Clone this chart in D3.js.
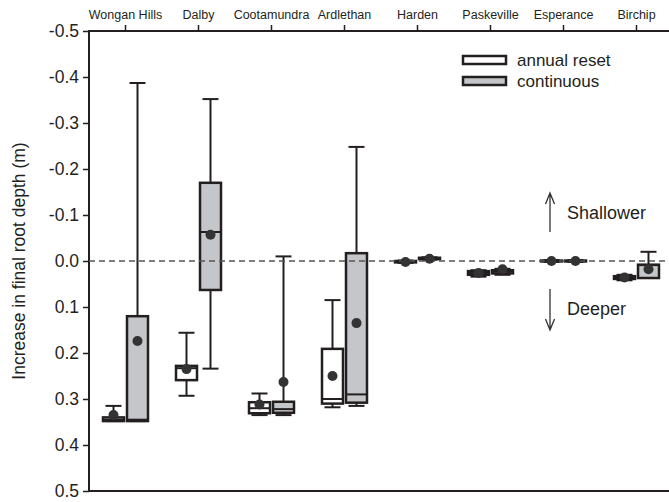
<!DOCTYPE html>
<html>
<head>
<meta charset="utf-8">
<script src="https://cdn.jsdelivr.net/npm/d3@7"></script>
<style>
	body { margin: 0; background: #fff; }
	svg { display: block; font-family: "Liberation Sans", Arial, sans-serif; }
</style>
</head>
<body>
<svg id="chart" width="669" height="502"></svg>
<script>
// sites along the top axis
const sites = ['Wongan Hills', 'Dalby', 'Cootamundra', 'Ardlethan', 'Harden', 'Paskeville', 'Esperance', 'Birchip'];
const seriesNames = ['annual reset', 'continuous'];
const yTicks = [-0.5, -0.4, -0.3, -0.2, -0.1, 0.0, 0.1, 0.2, 0.3, 0.4, 0.5];

// annual reset (m): whisker ends, quartiles, median, mean
const annualLow = [0.315, 0.156, 0.288, 0.085, -0.001, 0.020, -0.002, 0.030];
const annualQ1 = [0.340, 0.228, 0.307, 0.191, 0.000, 0.022, -0.001, 0.033];
const annualMedian = [0.345, 0.233, 0.320, 0.300, 0.002, 0.026, 0.000, 0.036];
const annualQ3 = [0.348, 0.259, 0.331, 0.310, 0.003, 0.030, 0.001, 0.039];
const annualHigh = [0.348, 0.293, 0.335, 0.318, 0.004, 0.034, 0.002, 0.042];
const annualMean = [0.335, 0.235, 0.312, 0.250, 0.002, 0.026, 0.000, 0.036];

// continuous (m)
const contLow = [-0.387, -0.352, -0.010, -0.248, -0.008, 0.017, -0.002, -0.020];
const contQ1 = [0.120, -0.170, 0.306, -0.017, -0.007, 0.020, -0.001, 0.008];
const contMedian = [0.345, -0.063, 0.322, 0.290, -0.005, 0.023, 0.000, 0.009];
const contQ3 = [0.348, 0.063, 0.330, 0.308, -0.004, 0.027, 0.001, 0.037];
const contHigh = [0.348, 0.234, 0.335, 0.315, -0.003, 0.030, 0.002, 0.037];
const contMean = [0.174, -0.057, 0.263, 0.135, -0.005, 0.018, 0.000, 0.018];

const ink = '#231f20';
const greyFill = '#c5c6c9';

const svg = d3.select('#chart');
const margin = { left: 89, top: 31, right: 673, bottom: 491 };

const x = d3.scaleBand()
	.domain(sites)
	.range([margin.left, margin.right]);
const offset = d3.scalePoint()
	.domain(seriesNames)
	.range([-12, 12]);
const y = d3.scaleLinear()
	.domain([-0.5, 0.5])
	.range([margin.top, margin.bottom]);

const boxWidth = 21;
const capWidth = 16;

function buildRows(name, low, q1, median, q3, high, mean) {
	return sites.map(function(site, i) {
		return { site: site, series: name, low: low[i], q1: q1[i], median: median[i], q3: q3[i], high: high[i], mean: mean[i] };
	});
}

const rows = buildRows(seriesNames[0], annualLow, annualQ1, annualMedian, annualQ3, annualHigh, annualMean)
	.concat(buildRows(seriesNames[1], contLow, contQ1, contMedian, contQ3, contHigh, contMean));

function cx(d) { return x(d.site) + x.bandwidth() / 2 + offset(d.series); }

//-- axes --//

const minusLocale = d3.formatLocale({ decimal: '.', thousands: ',', grouping: [3], currency: ['', ''], minus: '-' });

const yAxis = svg.append('g')
	.attr('transform', 'translate(' + margin.left + ',0)')
	.call(d3.axisLeft(y).tickValues(yTicks).tickSize(6).tickPadding(4).tickFormat(minusLocale.format('.1f')));
yAxis.select('.domain').remove();
yAxis.selectAll('line').attr('stroke', ink).attr('stroke-width', 1.5);
yAxis.selectAll('text').attr('fill', ink).style('font-size', '17.5px').style('font-family', '"Liberation Sans", Arial, sans-serif');

const topAxis = svg.append('g')
	.attr('transform', 'translate(0,' + margin.top + ')')
	.call(d3.axisTop(x).tickSize(6).tickPadding(6));
topAxis.select('.domain').remove();
topAxis.selectAll('line').attr('stroke', ink).attr('stroke-width', 1.5);
topAxis.selectAll('text').attr('fill', ink).style('font-size', '12.5px').style('font-family', '"Liberation Sans", Arial, sans-serif');

// frame: left, top and bottom (right side runs off the picture)
svg.append('path')
	.attr('d', 'M' + margin.right + ',' + margin.top + 'H' + margin.left + 'V' + margin.bottom + 'H' + margin.right)
	.attr('fill', 'none')
	.attr('stroke', ink)
	.attr('stroke-width', 2);

svg.append('text')
	.attr('transform', 'translate(19,' + y(0) + ') rotate(-90)')
	.attr('text-anchor', 'middle')
	.attr('dominant-baseline', 'central')
	.attr('fill', ink)
	.style('font-size', '17.5px')
	.text('Increase in final root depth (m)');

//-- boxes --//

const groups = svg.append('g').selectAll('g.box')
	.data(rows)
	.join('g')
	.attr('class', 'box');

groups.append('line')
	.attr('x1', cx).attr('x2', cx)
	.attr('y1', function(d) { return y(d.low); })
	.attr('y2', function(d) { return y(d.high); })
	.attr('stroke', ink).attr('stroke-width', 2);

groups.selectAll('line.cap')
	.data(function(d) { return [ { d: d, v: d.low }, { d: d, v: d.high } ]; })
	.join('line')
	.attr('class', 'cap')
	.attr('x1', function(c) { return cx(c.d) - capWidth / 2; })
	.attr('x2', function(c) { return cx(c.d) + capWidth / 2; })
	.attr('y1', function(c) { return y(c.v); })
	.attr('y2', function(c) { return y(c.v); })
	.attr('stroke', ink).attr('stroke-width', 2);

groups.append('rect')
	.attr('x', function(d) { return cx(d) - boxWidth / 2; })
	.attr('y', function(d) { return y(d.q1); })
	.attr('width', boxWidth)
	.attr('height', function(d) { return Math.max(0.5, y(d.q3) - y(d.q1)); })
	.attr('fill', function(d) { return d.series === seriesNames[0] ? '#fff' : greyFill; })
	.attr('stroke', ink).attr('stroke-width', 2.5);

groups.append('line')
	.attr('x1', function(d) { return cx(d) - boxWidth / 2; })
	.attr('x2', function(d) { return cx(d) + boxWidth / 2; })
	.attr('y1', function(d) { return y(d.median); })
	.attr('y2', function(d) { return y(d.median); })
	.attr('stroke', ink).attr('stroke-width', 2);

// zero line
svg.append('line')
	.attr('x1', margin.left).attr('x2', margin.right)
	.attr('y1', y(0)).attr('y2', y(0))
	.attr('stroke', '#555').attr('stroke-width', 1.5)
	.attr('stroke-dasharray', '6,4');

// means
svg.append('g').selectAll('circle')
	.data(rows)
	.join('circle')
	.attr('cx', cx)
	.attr('cy', function(d) { return y(d.mean); })
	.attr('r', 5)
	.attr('fill', '#333');

//-- legend --//

const legend = svg.append('g').selectAll('g')
	.data(seriesNames)
	.join('g')
	.attr('transform', function(d, i) { return 'translate(463,' + (56 + i * 21) + ')'; });

legend.append('rect')
	.attr('width', 43).attr('height', 8)
	.attr('fill', function(d, i) { return i === 0 ? '#fff' : greyFill; })
	.attr('stroke', ink).attr('stroke-width', 2.5);

legend.append('text')
	.attr('x', 54).attr('y', 4)
	.attr('dominant-baseline', 'central')
	.attr('fill', ink)
	.style('font-size', '17px')
	.text(function(d) { return d; });

//-- direction notes --//

function arrow(x0, yFrom, yTo) {
	let dir = yTo < yFrom ? 1 : -1;
	return 'M' + x0 + ',' + yFrom + 'V' + yTo +
		'M' + (x0 - 4.5) + ',' + (yTo + dir * 11) + 'L' + x0 + ',' + yTo + 'L' + (x0 + 4.5) + ',' + (yTo + dir * 11);
}

svg.append('path')
	.attr('d', arrow(550, 232, 193) + arrow(550, 289, 330))
	.attr('fill', 'none')
	.attr('stroke', '#333')
	.attr('stroke-width', 1.3);

svg.append('text')
	.attr('x', 567).attr('y', 213)
	.attr('dominant-baseline', 'central')
	.attr('fill', ink)
	.style('font-size', '18px')
	.text('Shallower');

svg.append('text')
	.attr('x', 567).attr('y', 309)
	.attr('dominant-baseline', 'central')
	.attr('fill', ink)
	.style('font-size', '18px')
	.text('Deeper');
</script>
</body>
</html>
